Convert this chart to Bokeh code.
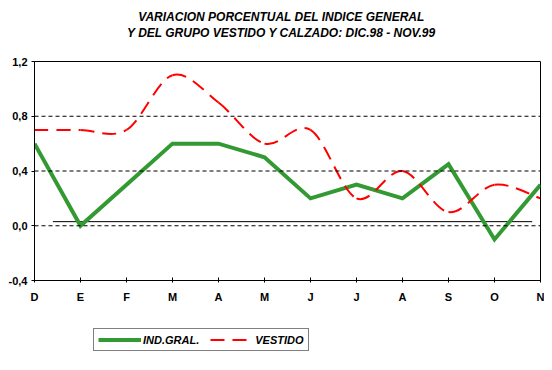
from bokeh.plotting import figure
from bokeh.layouts import column
from bokeh.models import (FixedTicker, Legend, LegendItem, Span, ColumnDataSource, Label)
from bokeh.embed import file_html
from bokeh.resources import INLINE

# ---- data ----
meses = ["D", "E", "F", "M", "A", "M", "J", "J", "A", "S", "O", "N"]
ind_gral = [0.6, 0.0, 0.3, 0.6, 0.6, 0.5, 0.2, 0.3, 0.2, 0.45, -0.1, 0.3]
vestido = [0.7, 0.7, 0.7, 1.1, 0.9, 0.6, 0.7, 0.2, 0.4, 0.1, 0.3, 0.2]
y_ticks = [-0.4, 0.0, 0.4, 0.8, 1.2]
y_labels = ["-0,4", "0,0", "0,4", "0,8", "1,2"]
grid_vals = [0.0, 0.4, 0.8]
linea_ref = {"x0": 0.4, "x1": 10.82, "y": 0.03}
titulo = ["VARIACION PORCENTUAL DEL INDICE GENERAL",
          "Y DEL GRUPO VESTIDO Y CALZADO: DIC.98 - NOV.99"]

FONT = "Liberation Sans"
GREEN = "#339933"
RED = "#FF0000"

x = list(range(len(meses)))

# ---- title strip ----
HEAD_H = 46
head = figure(width=544, height=HEAD_H, output_backend="svg", toolbar_location=None,
              x_axis_location=None, y_axis_location=None,
              x_range=(0, len(meses) - 1), y_range=(0, HEAD_H),
              min_border_left=34, min_border_right=4, min_border_top=0, min_border_bottom=0)
head.outline_line_color = None
head.xgrid.visible = False
head.ygrid.visible = False
for txt, yy in zip(titulo, [HEAD_H - 16, HEAD_H - 32]):
    head.add_layout(Label(x=5.37, y=yy, text=txt, text_align="center", text_baseline="middle",
                          text_font=FONT, text_font_style="bold italic", text_font_size="12px",
                          text_color="black"))

# ---- main chart ----
p = figure(width=544, height=305 - HEAD_H, output_backend="svg", toolbar_location=None,
           x_range=head.x_range, y_range=(y_ticks[0], y_ticks[-1]),
           min_border_left=34, min_border_right=4, min_border_top=61 - HEAD_H, min_border_bottom=22)
p.background_fill_color = "white"
p.border_fill_color = "white"
p.outline_line_color = "black"
p.outline_line_width = 1
p.xgrid.visible = False
p.ygrid.visible = False

p.xaxis.ticker = FixedTicker(ticks=x)
p.xaxis.major_label_overrides = {i: m for i, m in enumerate(meses)}
p.yaxis.ticker = FixedTicker(ticks=y_ticks)
p.yaxis.major_label_overrides = {t: l for t, l in zip(y_ticks, y_labels)}
for ax in (p.xaxis[0], p.yaxis[0]):
    ax.axis_line_color = "black"
    ax.major_tick_line_color = "black"
    ax.minor_tick_line_color = None
    ax.major_label_text_font = FONT
    ax.major_label_text_font_style = "bold"
    ax.major_label_text_font_size = "11px"
    ax.major_label_text_color = "black"
p.xaxis.major_tick_in = 3
p.xaxis.major_tick_out = 2
p.xaxis.major_label_standoff = 8
p.yaxis.major_tick_in = 0
p.yaxis.major_tick_out = 3
p.yaxis.major_label_standoff = 4

for g in grid_vals:
    p.add_layout(Span(location=g, dimension="width", line_color="black",
                      line_width=1, line_dash="4 3"))

p.segment(x0=[linea_ref["x0"]], x1=[linea_ref["x1"]], y0=[linea_ref["y"]], y1=[linea_ref["y"]],
          line_color="black", line_width=1)

# smoothed VESTIDO curve: cubic Bezier segments with Catmull-Rom control points from the data
def bezier_source(xs, ys):
    n = len(xs)
    d = dict(x0=[], y0=[], x1=[], y1=[], cx0=[], cy0=[], cx1=[], cy1=[])
    for i in range(n - 1):
        im1 = max(i - 1, 0)
        ip2 = min(i + 2, n - 1)
        d["x0"].append(xs[i]); d["y0"].append(ys[i])
        d["x1"].append(xs[i + 1]); d["y1"].append(ys[i + 1])
        d["cx0"].append(xs[i] + (xs[i + 1] - xs[im1]) / 6)
        d["cy0"].append(ys[i] + (ys[i + 1] - ys[im1]) / 6)
        d["cx1"].append(xs[i + 1] - (xs[ip2] - xs[i]) / 6)
        d["cy1"].append(ys[i + 1] - (ys[ip2] - ys[i]) / 6)
    return ColumnDataSource(d)

p.line(x, ind_gral, line_color=GREEN, line_width=4, line_join="miter")
p.bezier(x0="x0", y0="y0", x1="x1", y1="y1", cx0="cx0", cy0="cy0", cx1="cx1", cy1="cy1",
         source=bezier_source(x, vestido), line_color=RED, line_width=2, line_dash="14 8")

# ---- legend strip below the chart ----
leg = figure(width=544, height=57, output_backend="svg", toolbar_location=None,
             x_axis_location=None, y_axis_location=None,
             x_range=(100, 101), y_range=(100, 101),
             min_border_left=0, min_border_right=0, min_border_top=0, min_border_bottom=0)
leg.outline_line_color = None
leg.xgrid.visible = False
leg.ygrid.visible = False
l_ind = leg.line(x, ind_gral, line_color=GREEN, line_width=4)
l_ves = leg.line(x, vestido, line_color=RED, line_width=2, line_dash="14 8")

legend = Legend(items=[LegendItem(label="IND.GRAL.", renderers=[l_ind]),
                       LegendItem(label="VESTIDO", renderers=[l_ves])],
                orientation="horizontal", location=(59, 11),
                label_text_font=FONT, label_text_font_style="bold italic",
                label_text_font_size="11px", label_text_color="black",
                glyph_width=43, glyph_height=13, label_standoff=2, spacing=11,
                padding=4, margin=0, border_line_color="black", border_line_width=1,
                background_fill_color="white", background_fill_alpha=1,
                label_height=13)
leg.add_layout(legend, "center")

layout = column(head, p, leg, spacing=0)
open("out.html", "w").write(file_html(layout, INLINE))
